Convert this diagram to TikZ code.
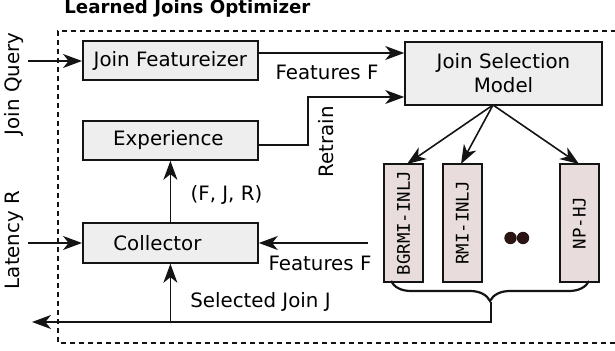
\documentclass[tikz,border=0pt]{standalone}
\usepackage{fontspec}
\setmainfont{DejaVu Sans}
\setmonofont{DejaVu Sans Mono}
\usetikzlibrary{arrows.meta,decorations.pathreplacing}
\definecolor{boxgray}{HTML}{EEEEEE}
\definecolor{algpink}{HTML}{E8DCDC}
\definecolor{linecol}{HTML}{141414}
\definecolor{dotcol}{HTML}{2A1414}
\begin{document}
\begin{tikzpicture}[x=0.5pt,y=-0.5pt,
  conn/.style={draw=linecol, line width=0.8pt, -{Stealth[length=9.5pt,width=7pt,inset=2.8pt]}},
  plain/.style={draw=linecol, line width=0.8pt},
  blk/.style={draw=linecol, line width=0.8pt, fill=boxgray, inner sep=0pt,
    minimum width=87.6pt, minimum height=19.5pt, font=\fontsize{9.9}{12}\selectfont},
  alg/.style={draw=linecol, line width=0.8pt, fill=algpink, inner sep=0pt,
    minimum width=19.5pt, minimum height=59pt, font=\ttfamily\fontsize{8.7}{10}\selectfont},
  lbl/.style={inner sep=0pt, font=\fontsize{9.9}{12}\selectfont},
  frame/.style={draw=linecol, line width=0.7pt, dash pattern=on 2.5pt off 2pt},
]
\useasboundingbox (0,0) rectangle (615,351);

% frame
\draw[frame] (616,31) -- (58,31) -- (58,343) -- (616,343);

% title
\node[anchor=base west, inner sep=0pt, font=\bfseries\fontsize{9.1}{11}\selectfont] (title) at (64,14) {Learned Joins Optimizer};

% blocks
\node[blk] (jf) at (170.4,60.5) {Join Featureizer};
\node[blk] (exp) at (170.4,140.5) {Experience\hspace*{2pt}};
\node[blk, minimum height=20pt] (col) at (170.4,243) {Collector\hspace*{13pt}};
\node[blk, minimum width=98.5pt, minimum height=31.5pt, align=center] (jsm) at (503.5,73.5) {Join Selection\\Model};

\node[alg] (bg) at (403.5,223) {\rotatebox{90}{BGRMI-INLJ}};
\node[alg] (rmi) at (462.5,223) {\rotatebox{90}{RMI-INLJ}};
\node[alg] (nphj) at (579.5,223) {\rotatebox{90}{NP-HJ}};

\fill[dotcol] (510.5,238) circle (3.1pt);
\fill[dotcol] (523,238) circle (3.1pt);

% outside labels
\node[lbl, rotate=90] (jqlbl) at (14,84) {Join Query};
\node[lbl, rotate=90] (latlbl) at (14,240) {Latency R};

% coordinates
\coordinate (jqin) at (28,61);
\coordinate (latin) at (28,243);
\coordinate (fy) at (0,53);
\coordinate (ry) at (0,145);
\coordinate (rt) at (308,97);
\coordinate (js) at (493,105);
\coordinate (bgt) at (407,164);
\coordinate (rmit) at (461,164);
\coordinate (npt) at (579,164);
\coordinate (ffin) at (368,243);
\coordinate (bl) at (391,281);
\coordinate (br) at (589,281);
\coordinate (btip) at (491,302);
\coordinate (outp) at (32,322);

% connectors
\draw[conn] (jqin) -- (jqin -| jf.west);
\draw[conn] (latin) -- (col.west);
\draw[conn] (jf.east |- fy) -- (jsm.west |- fy);
\draw[conn] (exp.east |- ry) -| (rt) -- (jsm.west |- rt);
\draw[conn] (js) -- (bgt);
\draw[conn] (js) -- (rmit);
\draw[conn] (js) -- (npt);
\draw[conn] (col.north) -- (exp.south);
\draw[conn] (ffin) -- (col.east);
\draw[plain, line width=1.1pt, decorate, decoration={brace, mirror, amplitude=10pt, aspect=0.5}] (bl) -- (br);
\draw[conn] (btip) |- (outp);
\draw[conn] (col.south |- outp) -- (col.south);

% labels
\node[lbl] (ff1) at (327,72) {Features F};
\node[lbl, rotate=90] (retr) at (326,142) {Retrain};
\node[lbl] (fjr) at (226.5,195) {(F, J, R)};
\node[lbl] (ff2) at (320,263) {Features F};
\node[lbl] (selj) at (260.5,302) {Selected Join J};
\end{tikzpicture}
\end{document}
